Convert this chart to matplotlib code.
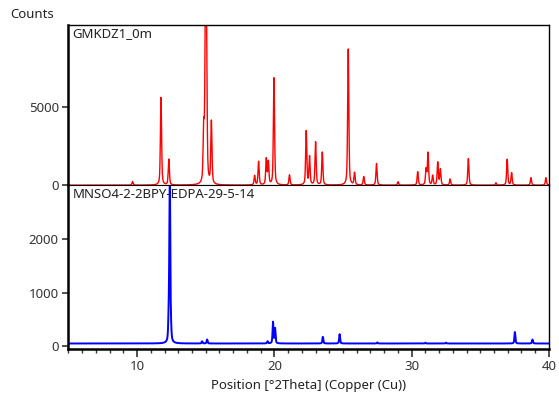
import numpy as np
import matplotlib.pyplot as plt
from matplotlib.ticker import MultipleLocator

plt.rcParams['font.family'] = ['Noto Sans', 'DejaVu Sans']

# peak lists: position (2theta), height (counts)
red_pos = [9.67, 11.74, 12.31, 14.85, 14.98, 15.05, 15.41, 18.56, 18.85,
           19.41, 19.56, 19.97, 21.10, 22.32, 22.56, 23.00, 23.49, 25.38, 25.84,
           26.51, 27.44, 29.01, 30.44, 31.05, 31.19, 31.53, 31.90, 32.09, 32.80,
           34.13, 36.14, 36.96, 37.28, 38.69, 39.78]
red_h = [230, 5600, 1650, 3300, 10500, 9000, 4000, 600, 1500,
         1650, 1450, 6850, 650, 3450, 1800, 2750, 2100, 8700, 780,
         540, 1380, 220, 850, 1000, 2050, 600, 1450, 1000, 390,
         1700, 150, 1650, 780, 480, 480]

blue_pos = [12.30, 12.38, 12.46, 14.73, 15.10, 19.50, 19.90, 20.05, 23.53,
            24.75, 27.50, 31.00, 32.50, 37.52, 38.80]
blue_h = [380, 3200, 200, 40, 75, 40, 400, 280, 125, 175, 20, 15, 15, 215, 75]
blue_base = 45

xticks = [10, 20, 30, 40]
top_label = "GMKDZ1_0m"
bot_label = "MNSO4-2-2BPY-EDPA-29-5-14"


def profile(x, pos, h, fwhm=0.1):
    y = np.zeros_like(x)
    g = fwhm / 2
    for p, a in zip(pos, h):
        y += a * (0.5 * g**2 / ((x - p)**2 + g**2)
                  + 0.5 * np.exp(-np.log(2) * ((x - p) / g)**2))
    return y


x = np.linspace(5, 40, 3501)
y_red = profile(x, red_pos, red_h)
y_blue = blue_base + profile(x, blue_pos, blue_h, fwhm=0.08)

fig = plt.figure(figsize=(5.59, 3.94), dpi=100)
left, right = 0.1225, 0.982
ax1 = fig.add_axes([left, 0.530, right - left, 0.4065])
ax2 = fig.add_axes([left, 0.114, right - left, 0.416], sharex=ax1)

ax1.plot(x, y_red, color='#ff0000', lw=1.0)
ax2.plot(x, y_blue, color='#0000ff', lw=1.4)

ax1.set_xlim(5, 40)
ax1.set_ylim(0, 10240)
ax2.set_ylim(-60, 3015)

ax1.set_yticks([0, 5000])
ax2.set_yticks([0, 1000, 2000])
ax2.set_xticks(xticks)
ax2.xaxis.set_minor_locator(MultipleLocator(1))

for ax in (ax1, ax2):
    for s in ax.spines.values():
        s.set_color('black')
        s.set_linewidth(1.0)
    ax.spines['left'].set_linewidth(1.8)
    ax.tick_params(axis='y', direction='out', length=4, width=1.2, labelsize=9.5,
                   colors='#333333', labelcolor='#333333', pad=3)
ax2.spines['bottom'].set_linewidth(1.8)
ax1.spines['bottom'].set_linewidth(0.8)
ax2.spines['top'].set_linewidth(0.8)
ax1.tick_params(axis='x', bottom=False, labelbottom=False)
ax2.tick_params(axis='x', which='major', direction='out', length=6, width=1.2,
                labelsize=9.5, colors='#333333', pad=2)
ax2.tick_params(axis='x', which='minor', direction='out', length=3, width=1.0,
                colors='#333333')

ax1.text(0.008, 0.985, top_label, transform=ax1.transAxes, ha='left', va='top',
         fontsize=9.5, color='#222222')
ax2.text(0.008, 0.985, bot_label, transform=ax2.transAxes, ha='left', va='top',
         fontsize=9.5, color='#222222')

fig.text(10 / 559, 1 - 15 / 394, "Counts", ha='left', va='center', fontsize=9.5,
         color='#222222')
ax2.set_xlabel("Position [°2Theta] (Copper (Cu))", fontsize=9.5, color='#222222',
               labelpad=4)

fig.savefig("out.png", dpi=100)
